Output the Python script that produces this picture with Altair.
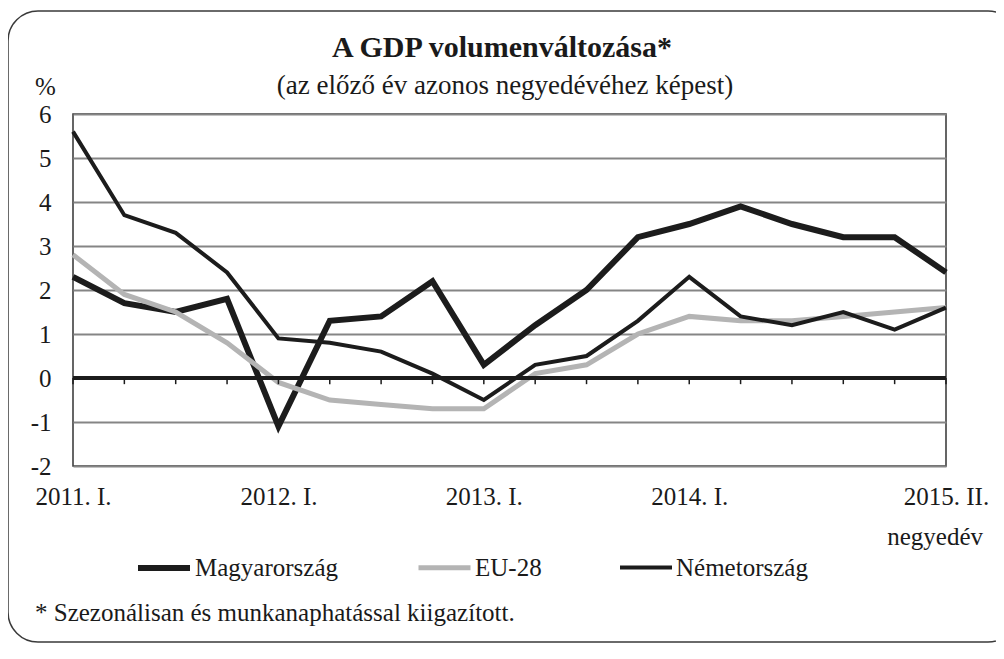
import altair as alt
import pandas as pd

quarters = ["2011. I.", "2011. II.", "2011. III.", "2011. IV.",
            "2012. I.", "2012. II.", "2012. III.", "2012. IV.",
            "2013. I.", "2013. II.", "2013. III.", "2013. IV.",
            "2014. I.", "2014. II.", "2014. III.", "2014. IV.",
            "2015. I.", "2015. II."]
shown_labels = ["2011. I.", "2012. I.", "2013. I.", "2014. I.", "2015. II."]

hungary = [2.3, 1.7, 1.5, 1.8, -1.1, 1.3, 1.4, 2.2, 0.3, 1.2, 2.0, 3.2,
           3.5, 3.9, 3.5, 3.2, 3.2, 2.4]
eu28 = [2.8, 1.9, 1.5, 0.8, -0.1, -0.5, -0.6, -0.7, -0.7, 0.1, 0.3, 1.0,
        1.4, 1.3, 1.3, 1.4, 1.5, 1.6]
germany = [5.6, 3.7, 3.3, 2.4, 0.9, 0.8, 0.6, 0.1, -0.5, 0.3, 0.5, 1.3,
           2.3, 1.4, 1.2, 1.5, 1.1, 1.6]

series_names = ["Magyarország", "EU-28", "Németország"]
series_colors = ["#1c1c1c", "#b4b4b4", "#1c1c1c"]
series_widths = [6, 4, 2]
y_ticks = [-2, -1, 0, 1, 2, 3, 4, 5, 6]

FONT = "'Liberation Serif', 'Times New Roman', serif"
FS = 25

rows = []
for name, vals in zip(series_names, [hungary, eu28, germany]):
    for q, v in zip(quarters, vals):
        rows.append({"quarter": q, "series": name, "value": v})
df = pd.DataFrame(rows)

x_scale = alt.Scale(type="point", padding=0, domain=quarters)
x_axis = alt.Axis(values=shown_labels, labelAngle=0, title=None,
                  domain=False, ticks=False, grid=False,
                  labelFont=FONT, labelFontSize=FS, labelColor="#1a1a1a",
                  labelPadding=18, labelFlush=False, labelOverlap=False)

y_scale = alt.Scale(domain=[-2, 6], nice=False, zero=False)
y_axis = alt.Axis(values=y_ticks, title=None, domain=False, ticks=False,
                  grid=True, gridColor="#858585", gridWidth=2,
                  labelFont=FONT, labelFontSize=FS, labelColor="#1a1a1a",
                  labelPadding=22, labelExpr="datum.value + ''")

leg = alt.Legend(title=None, orient="none", direction="horizontal",
                 legendX=62, legendY=425, symbolType="stroke",
                 symbolSize=2704, labelFont=FONT, labelFontSize=FS,
                 labelColor="#1a1a1a", labelOffset=2,
                 columnPadding=70, padding=0)

lines = alt.Chart(df).mark_line(strokeJoin="miter").encode(
    x=alt.X("quarter:N", sort=quarters, scale=x_scale, axis=x_axis),
    y=alt.Y("value:Q", scale=y_scale, axis=y_axis),
    color=alt.Color("series:N", sort=series_names,
                    scale=alt.Scale(domain=series_names, range=series_colors),
                    legend=leg),
    strokeWidth=alt.StrokeWidth("series:N", sort=series_names,
                                scale=alt.Scale(domain=series_names, range=series_widths),
                                legend=leg),
    detail="series:N",
)

zero_line = alt.Chart(pd.DataFrame({"v": [0]})).mark_rule(
    color="#1c1c1c", strokeWidth=4
).encode(y=alt.Y("v:Q", scale=y_scale, axis=y_axis))

tick_df = pd.DataFrame({"quarter": quarters})
ticks = alt.Chart(tick_df).mark_rule(color="#1c1c1c", strokeWidth=1.5).encode(
    x=alt.X("quarter:N", sort=quarters, scale=x_scale, axis=x_axis),
    y=alt.datum(0),
    y2=alt.datum(-0.14),
)

one = pd.DataFrame({"a": [0]})


def label(text, x, y, size=FS, align="left", weight="normal"):
    return alt.Chart(one).mark_text(
        text=text, font=FONT, fontSize=size, fontWeight=weight, align=align,
        baseline="middle", color="#1a1a1a"
    ).encode(x=alt.value(x), y=alt.value(y))


title = label("A GDP volumenváltozása*", 429, -66, size=30, align="center", weight="bold")
subtitle = label("(az előző év azonos negyedévéhez képest)", 432, -28, size=27, align="center")
unit = label("%", -38, -27)
xunit = label("negyedév", 910, 423, align="right")
note = label("* Szezonálisan és munkanaphatással kiigazított.", -38, 499)

frame = alt.Chart(one).mark_rect(
    fill="white", fillOpacity=0, stroke="#3a3a3a", strokeWidth=1.5, cornerRadius=30
).encode(x=alt.value(-65), x2=alt.value(945), y=alt.value(-103), y2=alt.value(528))

chart = alt.layer(frame, lines, zero_line, ticks, title, subtitle, unit, xunit, note).properties(
    width=873, height=352,
    autosize=alt.AutoSizeParams(type="none"),
    padding={"left": 65, "top": 106, "right": 50, "bottom": 178},
    background="white",
).configure_view(stroke="#333333", strokeWidth=1.5)

chart.save("out.html", embed_options={"renderer": "svg", "actions": False})
